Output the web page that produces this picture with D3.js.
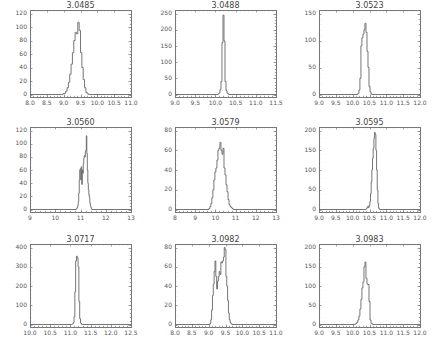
<!DOCTYPE html>
<html>
<head>
<meta charset="utf-8">
<script src="https://cdn.jsdelivr.net/npm/d3@7"></script>
<style>
  body { margin: 0; background: #fff; }
  svg { display: block; font-family: "DejaVu Sans", sans-serif; }
  .frame { fill: none; stroke: #777; stroke-width: 1; }
  .tick { stroke: #888; stroke-width: 0.8; }
  .hist { fill: none; stroke: #666; stroke-width: 0.9; }
  .lbl { font-size: 6px; fill: #555; }
  .title { font-size: 8px; fill: #444; }
</style>
</head>
<body>
<div id="chart"></div>
<script>
// panel titles (row by row)
const titles = ["3.0485", "3.0488", "3.0523", "3.0560", "3.0579", "3.0595", "3.0717", "3.0982", "3.0983"];

// x axis ticks per panel
const xTicks = [
    [8.0, 8.5, 9.0, 9.5, 10.0, 10.5, 11.0],
    [9.0, 9.5, 10.0, 10.5, 11.0, 11.5],
    [9.0, 9.5, 10.0, 10.5, 11.0, 11.5, 12.0],
    [9, 10, 11, 12, 13],
    [8, 9, 10, 11, 12, 13],
    [9.0, 9.5, 10.0, 10.5, 11.0, 11.5, 12.0],
    [10.0, 10.5, 11.0, 11.5, 12.0, 12.5],
    [8.0, 8.5, 9.0, 9.5, 10.0, 10.5, 11.0],
    [9.0, 9.5, 10.0, 10.5, 11.0, 11.5, 12.0]
];

// y axis ticks per panel
const yTicks = [
    [0, 20, 40, 60, 80, 100, 120],
    [0, 50, 100, 150, 200, 250],
    [0, 50, 100, 150],
    [0, 20, 40, 60, 80, 100, 120],
    [0, 20, 40, 60, 80],
    [0, 50, 100, 150, 200],
    [0, 100, 200, 300, 400],
    [0, 20, 40, 60, 80],
    [0, 50, 100, 150, 200]
];

// histogram bins: first bin centre and bin width
const binStart = [8.96, 10.075, 10.17, 10.84, 9.70, 10.40, 11.04, 9.05, 10.08];
const binWidth = [0.04, 0.025, 0.03, 0.02, 0.05, 0.02, 0.02, 0.025, 0.03];

// counts
const counts0485 = [0, 1, 2, 5, 10, 18, 30, 45, 62, 80, 92, 90, 107, 95, 62, 40, 22, 10, 3, 1, 0];
const counts0488 = [2, 5, 15, 40, 160, 245, 165, 40, 12, 4, 1];
const counts0523 = [2, 8, 30, 90, 105, 112, 120, 132, 115, 80, 50, 15, 5, 1];
const counts0560 = [1, 2, 3, 6, 12, 25, 45, 60, 62, 45, 65, 38, 60, 55, 70, 78, 82, 80, 88, 90, 112, 85, 60, 40, 30, 22, 18, 10, 6, 3, 1];
const counts0579 = [1, 3, 6, 12, 20, 30, 38, 42, 50, 60, 62, 68, 60, 56, 62, 42, 35, 25, 18, 10, 5, 3, 2, 1];
const counts0595 = [1, 3, 6, 8, 5, 10, 20, 40, 70, 100, 130, 155, 180, 195, 190, 150, 100, 50, 15, 3, 1];
const counts0717 = [1, 3, 10, 40, 170, 330, 355, 345, 300, 120, 30, 8, 2];
const counts0982 = [1, 5, 15, 30, 42, 55, 66, 50, 37, 45, 50, 55, 52, 65, 64, 66, 70, 80, 78, 50, 40, 25, 12, 5, 2, 1];
const counts0983 = [1, 3, 6, 12, 22, 40, 65, 95, 110, 150, 162, 120, 105, 104, 60, 12, 3, 1];

const counts = [counts0485, counts0488, counts0523, counts0560, counts0579, counts0595, counts0717, counts0982, counts0983];

// minor tick subdivisions
const xMinor = [5, 5, 5, 5, 5, 5, 5, 5, 5];
const yMinor = [4, 5, 5, 4, 4, 5, 5, 4, 5];

const width = 436, height = 346;
const colLeft = [30, 175, 319];
const plotW = 101;
const rowTop = [10, 127, 244];
const rowBottom = [97, 212, 327];
const tickLen = 2.5, minorLen = 1.2;

const svg = d3.select('#chart').append('svg')
    .attr('width', width)
    .attr('height', height);

titles.forEach((title, i) => {
    const col = i % 3, row = Math.floor(i / 3);
    const x0 = colLeft[col], x1 = x0 + plotW;
    const y0 = rowBottom[row], y1 = rowTop[row];
    const xt = xTicks[i], yt = yTicks[i];

    const x = d3.scaleLinear().domain([xt[0], xt[xt.length - 1]]).range([x0, x1]);
    // zero sits a little above the frame, top tick a little below it
    const y = d3.scaleLinear().domain([0, yt[yt.length - 1]]).range([y0 - 2.5, y1 + 3.5]);

    const g = svg.append('g');

    // minor ticks
    const xStep = xt[1] - xt[0];
    const xm = d3.range(xt[0], xt[xt.length - 1] + 1e-9, xStep / xMinor[i]);
    xm.forEach(v => {
        const px = Math.round(x(v)) + 0.5;
        g.append('line').attr('class', 'tick').attr('x1', px).attr('x2', px).attr('y1', y0).attr('y2', y0 - minorLen);
        g.append('line').attr('class', 'tick').attr('x1', px).attr('x2', px).attr('y1', y1).attr('y2', y1 + minorLen);
    });
    const yStep = yt[1] - yt[0];
    const ym = d3.range(0, y.invert(y1) + 1e-9, yStep / yMinor[i]);
    ym.forEach(v => {
        const py = Math.round(y(v)) + 0.5;
        g.append('line').attr('class', 'tick').attr('x1', x0).attr('x2', x0 + minorLen).attr('y1', py).attr('y2', py);
        g.append('line').attr('class', 'tick').attr('x1', x1).attr('x2', x1 - minorLen).attr('y1', py).attr('y2', py);
    });

    // major ticks and labels
    const fmt = Number.isInteger(xStep) ? d3.format('d') : d3.format('.1f');
    xt.forEach(v => {
        const px = Math.round(x(v)) + 0.5;
        g.append('line').attr('class', 'tick').attr('x1', px).attr('x2', px).attr('y1', y0).attr('y2', y0 - tickLen);
        g.append('line').attr('class', 'tick').attr('x1', px).attr('x2', px).attr('y1', y1).attr('y2', y1 + tickLen);
        g.append('text').attr('class', 'lbl')
            .attr('x', x(v)).attr('y', y0 + 6)
            .attr('text-anchor', 'middle').attr('dominant-baseline', 'middle')
            .text(fmt(v));
    });
    yt.forEach(v => {
        const py = Math.round(y(v)) + 0.5;
        g.append('line').attr('class', 'tick').attr('x1', x0).attr('x2', x0 + tickLen).attr('y1', py).attr('y2', py);
        g.append('line').attr('class', 'tick').attr('x1', x1).attr('x2', x1 - tickLen).attr('y1', py).attr('y2', py);
        g.append('text').attr('class', 'lbl')
            .attr('x', x0 - 3).attr('y', y(v))
            .attr('text-anchor', 'end').attr('dominant-baseline', 'middle')
            .text(v);
    });

    // frame
    g.append('rect').attr('class', 'frame')
        .attr('x', x0 + 0.5).attr('y', y1 + 0.5)
        .attr('width', plotW).attr('height', y0 - y1);

    // histogram as steps
    const w = binWidth[i];
    const pts = [{ x: xt[0], y: 0 }];
    counts[i].forEach((c, k) => pts.push({ x: binStart[i] + k * w - w / 2, y: c }));
    pts.push({ x: binStart[i] + counts[i].length * w - w / 2, y: 0 });
    pts.push({ x: xt[xt.length - 1], y: 0 });

    const line = d3.line()
        .x(d => x(d.x))
        .y(d => y(d.y))
        .curve(d3.curveStepAfter);

    g.append('path').attr('class', 'hist').attr('d', line(pts));

    // title
    g.append('text').attr('class', 'title')
        .attr('x', (x0 + x1) / 2).attr('y', y1 - 5)
        .attr('text-anchor', 'middle').attr('dominant-baseline', 'middle')
        .text(title);
});
</script>
</body>
</html>
